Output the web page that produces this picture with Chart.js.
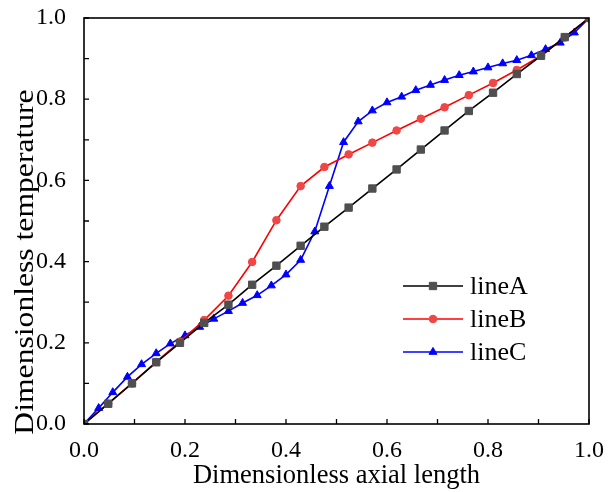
<!DOCTYPE html>
<html>
<head>
<meta charset="utf-8">
<script src="https://cdn.jsdelivr.net/npm/chart.js@4.4.1/dist/chart.umd.min.js"></script>
<style>
  html, body { margin: 0; padding: 0; background: #fff; }
  #wrap { width: 608px; height: 492px; }
</style>
</head>
<body>
<div id="wrap"><canvas id="tempChart"></canvas></div>
<script>
// x positions and values
const xA = [0, 0.048, 0.095, 0.143, 0.19, 0.238, 0.286, 0.333, 0.381, 0.429, 0.476,
  0.524, 0.571, 0.619, 0.667, 0.714, 0.762, 0.81, 0.857, 0.905, 0.952, 1.0];
const lineA = [0, 0.05, 0.1, 0.152, 0.2, 0.249, 0.294, 0.343, 0.39, 0.439, 0.486,
  0.533, 0.58, 0.627, 0.676, 0.723, 0.771, 0.816, 0.862, 0.907, 0.953, 1.0];
const lineB = [0, 0.05, 0.1, 0.153, 0.203, 0.256, 0.316, 0.399, 0.502, 0.586, 0.633,
  0.664, 0.693, 0.723, 0.752, 0.78, 0.81, 0.84, 0.872, 0.907, 0.952, 1.0];

const xC = [0, 0.029, 0.057, 0.086, 0.114, 0.143, 0.171, 0.2, 0.229, 0.257, 0.286,
  0.314, 0.343, 0.371, 0.4, 0.429, 0.457, 0.486, 0.514, 0.543, 0.571, 0.6,
  0.629, 0.657, 0.686, 0.714, 0.743, 0.771, 0.8, 0.829, 0.857, 0.886, 0.914,
  0.943, 0.971, 1.0];
const lineC = [0, 0.039, 0.078, 0.116, 0.147, 0.174, 0.198, 0.218, 0.239, 0.259, 0.278,
  0.298, 0.317, 0.341, 0.368, 0.404, 0.474, 0.586, 0.694, 0.745, 0.772, 0.792,
  0.806, 0.822, 0.835, 0.847, 0.859, 0.868, 0.878, 0.888, 0.896, 0.908, 0.923,
  0.939, 0.964, 1.0];

const xTicks = [0, 0.2, 0.4, 0.6, 0.8, 1.0];
const minorTicks = [0.1, 0.3, 0.5, 0.7, 0.9];
const yTitle = 'Dimensionless temperature';

const serif = "'Liberation Serif', 'Times New Roman', serif";

function pts(xs, ys) {
  return xs.map((x, i) => ({ x: x, y: ys[i] }));
}

// frame, inward ticks, y title and the in-plot legend
const framePlugin = {
  id: 'frame',
  afterDraw(chart) {
    const ctx = chart.ctx;
    const a = chart.chartArea;
    const xs = chart.scales.x, ys = chart.scales.y;
    ctx.save();
    ctx.strokeStyle = '#000';
    ctx.lineWidth = 1.6;
    ctx.strokeRect(a.left, a.top, a.right - a.left, a.bottom - a.top);
    ctx.lineWidth = 1.3;
    ctx.beginPath();
    xTicks.concat(minorTicks).forEach(v => {
      const px = xs.getPixelForValue(v);
      ctx.moveTo(px, a.bottom);
      ctx.lineTo(px, a.bottom - 5);
      const py = ys.getPixelForValue(v);
      ctx.moveTo(a.left, py);
      ctx.lineTo(a.left + 5, py);
    });
    ctx.stroke();

    // y axis title, a bit below the axis centre as in the original,
    // and slightly stretched along its length like the source font
    ctx.save();
    ctx.translate(33, 262);
    ctx.rotate(-Math.PI / 2);
    ctx.scale(1.13, 1);
    ctx.fillStyle = '#000';
    ctx.font = '28px ' + serif;
    ctx.textAlign = 'center';
    ctx.textBaseline = 'alphabetic';
    ctx.fillText(yTitle, 0, 0);
    ctx.restore();

    // legend
    const lx = 403, ly = 286, gap = 33;
    chart.data.datasets.forEach((ds, i) => {
      const y = ly + i * gap;
      ctx.strokeStyle = ds.borderColor;
      ctx.lineWidth = ds.borderWidth;
      ctx.beginPath();
      ctx.moveTo(lx, y);
      ctx.lineTo(lx + 60, y);
      ctx.stroke();
      ctx.fillStyle = ds.pointBackgroundColor;
      ctx.strokeStyle = ds.pointBorderColor;
      ctx.lineWidth = 1;
      Chart.helpers.drawPoint(ctx, { pointStyle: ds.pointStyle, radius: ds.pointRadius, borderWidth: 1 }, lx + 30, y);
      ctx.fillStyle = '#000';
      ctx.font = '26px ' + serif;
      ctx.textBaseline = 'middle';
      ctx.fillText(ds.label, lx + 67, y + 1);
    });
    ctx.restore();
  }
};

const ctx = document.getElementById('tempChart').getContext('2d');
new Chart(ctx, {
  type: 'line',
  data: {
    datasets: [
      {
        label: 'lineA',
        data: pts(xA, lineA),
        borderColor: '#000000',
        borderWidth: 1.6,
        pointStyle: 'rect',
        pointRadius: 5.2,
        pointBackgroundColor: '#4f4f4f',
        pointBorderColor: '#4f4f4f',
        pointBorderWidth: 1
      },
      {
        label: 'lineB',
        data: pts(xA, lineB),
        borderColor: '#ff0000',
        borderWidth: 1.6,
        pointStyle: 'circle',
        pointRadius: 3.8,
        pointBackgroundColor: '#ef4646',
        pointBorderColor: '#ef4646',
        pointBorderWidth: 1
      },
      {
        label: 'lineC',
        data: pts(xC, lineC),
        borderColor: '#0000ff',
        borderWidth: 1.6,
        pointStyle: 'triangle',
        pointRadius: 4.6,
        pointBackgroundColor: '#0000ff',
        pointBorderColor: '#0000ff',
        pointBorderWidth: 1
      }
    ]
  },
  plugins: [framePlugin],
  options: {
    responsive: true,
    maintainAspectRatio: false,
    animation: false,
    layout: { padding: { top: 18, right: 19, left: 0, bottom: 0 } },
    plugins: {
      legend: { display: false },
      tooltip: { enabled: false }
    },
    scales: {
      x: {
        type: 'linear',
        min: 0, max: 1,
        grid: { display: false },
        border: { display: false },
        afterBuildTicks: s => { s.ticks = xTicks.map(v => ({ value: v })); },
        afterFit: s => { s.height = 68; s.paddingLeft = 0; s.paddingRight = 0; },
        ticks: {
          color: '#000',
          font: { family: serif, size: 24 },
          padding: 4,
          maxRotation: 0,
          callback: v => v.toFixed(1)
        },
        title: {
          display: true,
          text: 'Dimensionless axial length',
          color: '#000',
          font: { family: serif, size: 26.5 },
          padding: { top: 0, bottom: 0 }
        }
      },
      y: {
        type: 'linear',
        min: 0, max: 1,
        grid: { display: false },
        border: { display: false },
        afterBuildTicks: s => { s.ticks = xTicks.map(v => ({ value: v })); },
        afterFit: s => { s.width = 84; s.paddingTop = 0; s.paddingBottom = 0; },
        ticks: {
          color: '#000',
          font: { family: serif, size: 24 },
          padding: 10,
          callback: v => v.toFixed(1)
        }
      }
    }
  }
});
</script>
</body>
</html>
